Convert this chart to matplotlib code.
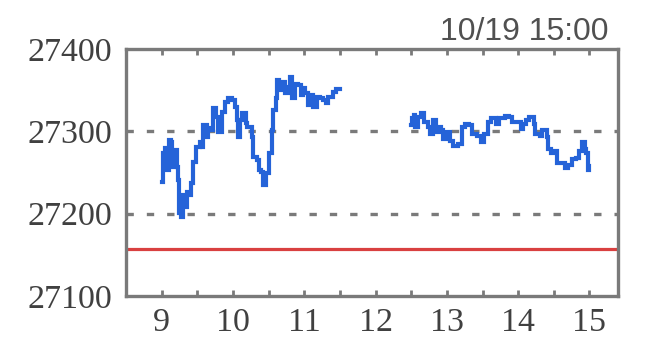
import matplotlib
matplotlib.use("Agg")
import matplotlib.pyplot as plt
import numpy as np

# minutes after 9:00 and index values
am_minutes = [0, 1, 3, 4, 6, 8, 9, 11, 13, 14, 15, 16, 18, 19, 21, 24, 25, 26, 29, 32,
              34, 35, 38, 39, 42, 43, 46, 47, 51, 53, 56, 59, 62, 63, 64, 66, 68, 71, 72, 76,
              77, 80, 82, 84, 85, 88, 90, 93, 94, 96, 97, 99, 102, 104, 106, 108, 110, 112, 115, 117,
              119, 121, 123, 126, 127, 131, 133, 136, 138, 140, 144, 147, 150]
am_values = [27238, 27274, 27280, 27253, 27289, 27287, 27257, 27277, 27257, 27241, 27201, 27196, 27223, 27208, 27226, 27223, 27237, 27263, 27281, 27287,
             27281, 27308, 27293, 27304, 27302, 27328, 27317, 27299, 27323, 27336, 27340, 27338, 27330, 27314, 27293, 27314, 27322, 27310, 27305, 27293,
             27269, 27265, 27253, 27251, 27235, 27249, 27274, 27302, 27326, 27340, 27362, 27350, 27360, 27347, 27354, 27366, 27340, 27358, 27356, 27344,
             27353, 27347, 27332, 27344, 27330, 27342, 27340, 27338, 27334, 27342, 27348, 27351, 27351]

pm_minutes = [210, 211, 212, 213, 216, 218, 221, 224, 226, 228, 231, 233, 235, 237, 240, 243, 245, 249, 253, 255,
              259, 261, 265, 269, 271, 275, 277, 281, 284, 289, 292, 295, 299, 302, 304, 307, 309, 313, 314, 318,
              320, 324, 325, 328, 331, 333, 336, 339, 342, 345, 349, 351, 354, 356, 357, 359, 360]
pm_values = [27308, 27316, 27320, 27305, 27317, 27322, 27311, 27305, 27297, 27314, 27299, 27305, 27302, 27291, 27299, 27288, 27282, 27285, 27305, 27309,
             27308, 27297, 27294, 27287, 27297, 27311, 27316, 27309, 27316, 27319, 27317, 27311, 27311, 27303, 27309, 27314, 27317, 27309, 27297, 27294,
             27302, 27293, 27279, 27274, 27276, 27262, 27262, 27255, 27259, 27266, 27268, 27276, 27287, 27279, 27274, 27253, 27258]

prev_close = 27157
y_ticks = [27100, 27200, 27300, 27400]
x_ticks = [9, 10, 11, 12, 13, 14, 15]
title = "10/19 15:00"

fig = plt.figure(figsize=(6.5, 3.4), dpi=100)
ax = fig.add_axes([126/650, 1-296/340, (618-126)/650, (296-49)/340])

line_color = "#2563d8"
for mins, vals in ((am_minutes, am_values), (pm_minutes, pm_values)):
    t = 9 + np.array(mins) / 60.0
    ax.plot(t, vals, color=line_color, lw=3.0, drawstyle="steps-post",
            solid_joinstyle="miter", zorder=3)

ax.axhline(prev_close, color="#d94040", lw=2.3, zorder=2)
for g in (27200, 27300):
    ax.axhline(g, color="#7a7a7a", lw=2.4, linestyle=(0, (2.2, 3.9)), zorder=1)

ax.set_xlim(8.5, 15.4)
ax.set_ylim(27100, 27400)
ax.set_yticks(y_ticks)
ax.set_yticklabels([str(v) for v in y_ticks])
ax.set_xticks(x_ticks)
ax.set_xticklabels([str(v) for v in x_ticks])
ax.set_xticks(np.arange(9, 15.01, 0.5), minor=True)

for s in ax.spines.values():
    s.set_color("#7a7a7a")
    s.set_linewidth(2.4)

ax.tick_params(axis="x", which="both", direction="in", top=True, bottom=True,
               length=4, width=2.0, color="#7a7a7a", pad=8)
ax.tick_params(axis="y", which="both", length=0, pad=10)
for lab in ax.get_xticklabels() + ax.get_yticklabels():
    lab.set_fontfamily("Liberation Serif")
    lab.set_fontsize(24.5)
    lab.set_color("#404040")

fig.text(608/650, 1-40/340, title, ha="right", va="baseline",
         fontfamily="Liberation Sans", fontsize=23, color="#505050")

fig.savefig("out.png", dpi=100, facecolor="white")
